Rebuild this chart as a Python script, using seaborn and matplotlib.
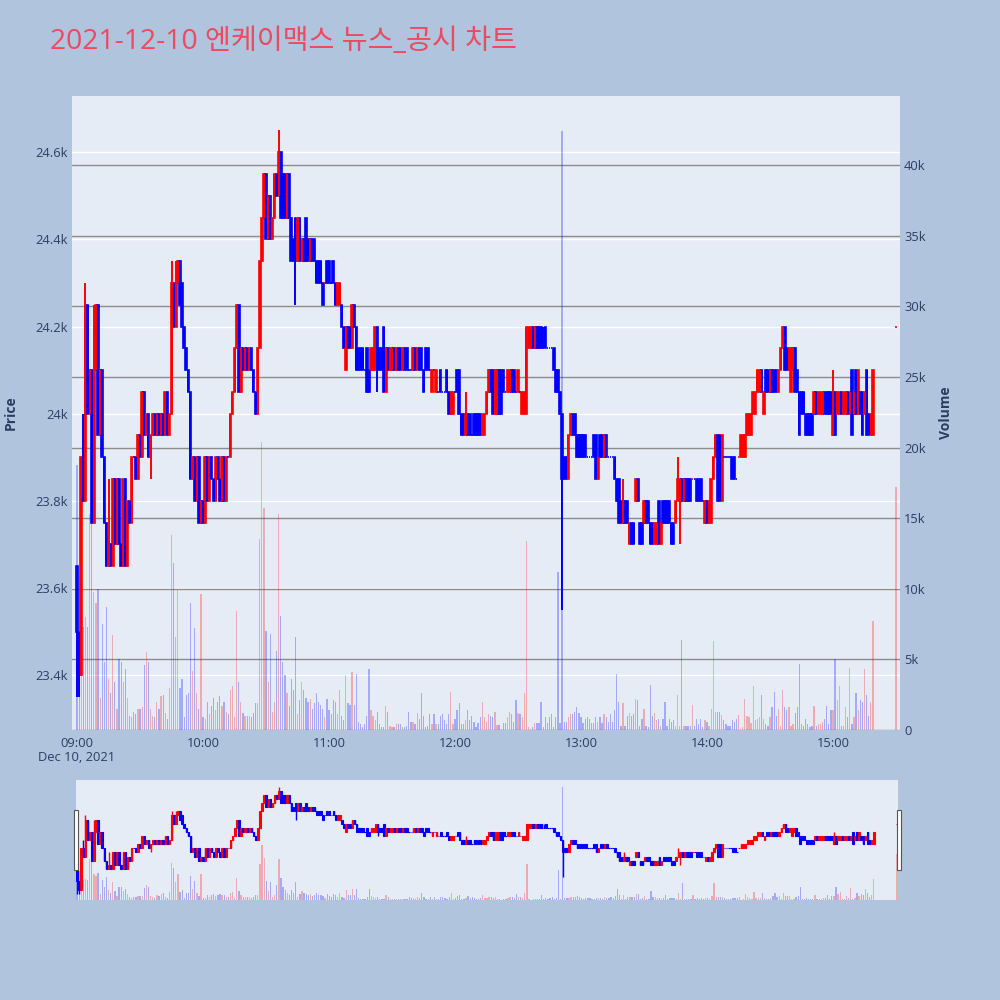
"""
Graphique minute : cours (chandeliers) et volume, séance du 10/12/2021
"""
import matplotlib
matplotlib.use('Agg')
import numpy as np
import pandas as pd
import matplotlib.pyplot as plt
import matplotlib.ticker as mticker
import matplotlib.transforms as mtransforms
from matplotlib.patches import Rectangle
import seaborn as sns

TITLE = '2021-12-10 엔케이맥스 뉴스_공시 차트'
DATE_LABEL = 'Dec 10, 2021'

# minutes after 09:00 -- last bar is the 15:30 closing auction
bar_minutes = list(range(380)) + [390]

opens = [
    23650, 23500, 23400, 23900, 23800, 24250, 24000, 24100, 23750, 24100,
    24250, 23950, 24100, 23900, 23750, 23650, 23700, 23650, 23850, 23700,
    23850, 23700, 23650, 23850, 23650, 23800, 23750, 23900, 23900, 23850,
    23950, 23900, 24050, 23950, 24000, 23900, 23950, 24000, 23950, 24000,
    23950, 24000, 23950, 24050, 23950, 24000, 24300, 24200, 24300, 24350,
    24300, 24200, 24150, 24100, 24050, 23850, 23900, 23800, 23900, 23750,
    23800, 23750, 23900, 23800, 23900, 23850, 23800, 23900, 23850, 23800,
    23900, 23800, 23900, 23900, 24000, 24050, 24150, 24250, 24050, 24150,
    24100, 24150, 24100, 24150, 24100, 24050, 24000, 24150, 24350, 24450,
    24550, 24400, 24500, 24400, 24450, 24550, 24500, 24600, 24550, 24550,
    24450, 24550, 24450, 24400, 24450, 24350, 24450, 24350, 24400, 24450,
    24400, 24350, 24400, 24400, 24350, 24350, 24350, 24300, 24300, 24350,
    24350, 24300, 24350, 24300, 24250, 24250, 24250, 24200, 24100, 24200,
    24200, 24150, 24250, 24200, 24150, 24150, 24150, 24100, 24150, 24100,
    24100, 24100, 24100, 24200, 24150, 24150, 24200, 24050, 24150, 24100,
    24100, 24150, 24100, 24150, 24150, 24100, 24150, 24150, 24100, 24100,
    24100, 24150, 24100, 24150, 24150, 24100, 24150, 24150, 24100, 24050,
    24100, 24050, 24050, 24100, 24050, 24050, 24100, 24050, 24000, 24000,
    24050, 24100, 24100, 24000, 24000, 23950, 24000, 24000, 23950, 24000,
    24000, 24000, 24000, 23950, 23950, 24000, 24050, 24100, 24100, 24000,
    24000, 24100, 24100, 24100, 24050, 24050, 24050, 24100, 24100, 24050,
    24050, 24050, 24000, 24000, 24000, 24150, 24150, 24200, 24150, 24200,
    24200, 24200, 24150, 24200, 24150, 24150, 24150, 24150, 24100, 24100,
    24050, 24000, 23900, 23900, 23850, 23950, 24000, 24000, 23950, 23950,
    23950, 23950, 23950, 23900, 23900, 23900, 23950, 23950, 23850, 23950,
    23950, 23900, 23950, 23900, 23900, 23900, 23900, 23850, 23850, 23800,
    23750, 23800, 23800, 23700, 23750, 23750, 23800, 23850, 23750, 23750,
    23750, 23800, 23800, 23750, 23750, 23700, 23700, 23800, 23700, 23800,
    23800, 23800, 23800, 23750, 23750, 23750, 23800, 23800, 23850, 23800,
    23850, 23850, 23850, 23850, 23850, 23850, 23850, 23850, 23800, 23750,
    23800, 23750, 23750, 23850, 23900, 23950, 23950, 23800, 23900, 23900,
    23900, 23900, 23900, 23900, 23850, 23900, 23900, 23900, 23900, 23950,
    23950, 23950, 24000, 24000, 24050, 24050, 24100, 24000, 24100, 24100,
    24050, 24100, 24100, 24100, 24050, 24100, 24150, 24200, 24150, 24100,
    24050, 24100, 24150, 24100, 24050, 24050, 24050, 24000, 24000, 24000,
    24000, 24000, 24050, 24000, 24000, 24000, 24050, 24050, 24050, 24050,
    23950, 24050, 24000, 24000, 24050, 24000, 24000, 24050, 24000, 24100,
    24000, 24100, 24000, 24050, 24050, 24000, 24100, 24000, 23950, 23950,
    24200,
]

closes = [
    23500, 23400, 23900, 23800, 24250, 24000, 24100, 23750, 24100, 24250,
    23950, 24100, 23900, 23750, 23650, 23700, 23650, 23850, 23700, 23850,
    23700, 23650, 23850, 23650, 23800, 23750, 23900, 23900, 23850, 23950,
    23900, 24050, 23950, 24000, 23900, 23950, 24000, 23950, 24000, 23950,
    24000, 23950, 24050, 23950, 24000, 24300, 24200, 24300, 24350, 24250,
    24200, 24150, 24100, 24050, 23850, 23900, 23800, 23900, 23750, 23800,
    23750, 23900, 23800, 23900, 23850, 23800, 23900, 23850, 23800, 23900,
    23800, 23900, 23900, 24000, 24050, 24150, 24250, 24050, 24150, 24100,
    24150, 24100, 24150, 24100, 24050, 24000, 24150, 24350, 24450, 24550,
    24400, 24500, 24400, 24450, 24550, 24500, 24600, 24450, 24450, 24450,
    24550, 24450, 24350, 24350, 24350, 24450, 24350, 24400, 24350, 24350,
    24350, 24400, 24350, 24350, 24300, 24300, 24300, 24250, 24300, 24300,
    24300, 24300, 24300, 24250, 24300, 24300, 24200, 24150, 24200, 24150,
    24150, 24250, 24200, 24100, 24100, 24100, 24100, 24100, 24050, 24050,
    24150, 24150, 24200, 24100, 24100, 24100, 24050, 24150, 24100, 24150,
    24150, 24100, 24150, 24100, 24100, 24150, 24100, 24100, 24100, 24100,
    24150, 24100, 24150, 24100, 24100, 24050, 24100, 24100, 24100, 24100,
    24100, 24100, 24050, 24050, 24050, 24050, 24050, 24000, 24050, 24050,
    24050, 24050, 24000, 23950, 23950, 24000, 23950, 23950, 23950, 23950,
    23950, 23950, 23950, 24000, 24000, 24050, 24100, 24050, 24000, 24100,
    24100, 24000, 24000, 24050, 24050, 24100, 24100, 24050, 24050, 24050,
    24100, 24050, 24050, 24050, 24200, 24200, 24200, 24150, 24200, 24150,
    24150, 24150, 24150, 24150, 24150, 24150, 24150, 24100, 24050, 24050,
    24000, 23850, 23850, 23850, 23950, 24000, 23950, 23950, 23900, 23900,
    23900, 23900, 23900, 23900, 23900, 23900, 23900, 23850, 23900, 23900,
    23900, 23950, 23900, 23900, 23900, 23900, 23850, 23800, 23750, 23750,
    23800, 23750, 23750, 23750, 23700, 23700, 23850, 23800, 23700, 23700,
    23800, 23750, 23750, 23700, 23700, 23750, 23750, 23700, 23750, 23750,
    23750, 23750, 23750, 23700, 23700, 23800, 23850, 23850, 23800, 23850,
    23800, 23800, 23800, 23850, 23850, 23800, 23800, 23800, 23800, 23800,
    23750, 23800, 23850, 23900, 23950, 23800, 23800, 23950, 23900, 23900,
    23900, 23900, 23850, 23850, 23850, 23900, 23950, 23950, 23950, 24000,
    24000, 24000, 24050, 24050, 24100, 24100, 24050, 24050, 24050, 24050,
    24100, 24050, 24050, 24050, 24100, 24150, 24200, 24100, 24100, 24150,
    24150, 24150, 24050, 24050, 23950, 24000, 24000, 23950, 23950, 23950,
    23950, 24050, 24000, 24050, 24050, 24050, 24000, 24000, 24000, 24000,
    24050, 23950, 24050, 24050, 24000, 24050, 24050, 24000, 24050, 23950,
    24050, 24000, 24100, 24000, 23950, 24050, 23950, 23950, 24000, 24100,
    24200,
]

# wicks reaching beyond the body: minute -> (high, low)
wicks = {
    0: (23650, 23350), 1: (23500, 23350), 3: (24000, 23800), 4: (24300, 23800),
    8: (24250, 23750), 15: (23850, 23650), 35: (23950, 23850), 45: (24350, 24000),
    47: (24350, 24200), 49: (24350, 24250), 96: (24650, 24500), 104: (24450, 24250),
    117: (24300, 24250), 143: (24200, 24050), 185: (24050, 23950), 222: (24200, 24150),
    231: (24000, 23550), 260: (23850, 23750), 286: (23900, 23800), 287: (23850, 23700),
    360: (24100, 23950),
}

# volume per minute, thousands of shares
volume_k = [
    18.8, 11.0, 16.0, 7.3, 8.0, 7.3, 15.3, 14.6, 9.8, 9.0,
    10.0, 2.3, 7.5, 4.8, 8.7, 3.6, 2.6, 6.7, 3.4, 1.5,
    5.0, 4.8, 3.4, 4.3, 2.3, 1.0, 0.9, 1.3, 1.1, 1.5,
    1.5, 1.6, 4.6, 5.5, 4.8, 1.5, 1.0, 0.9, 2.0, 1.5,
    2.4, 2.5, 1.2, 0.8, 3.0, 13.8, 11.8, 6.6, 9.9, 3.0,
    3.6, 0.9, 2.5, 2.6, 9.0, 4.2, 7.2, 2.6, 1.5, 9.6,
    0.9, 0.8, 2.0, 1.1, 1.7, 2.3, 1.4, 2.0, 2.4, 1.7,
    2.0, 1.3, 1.1, 2.8, 3.1, 0.9, 8.4, 3.4, 2.0, 1.2,
    1.0, 1.0, 1.0, 0.9, 1.2, 1.9, 1.9, 13.5, 20.4, 15.7,
    7.0, 3.4, 6.8, 1.3, 2.0, 5.6, 15.3, 8.1, 4.8, 3.9,
    2.6, 1.7, 3.6, 2.8, 6.6, 1.1, 2.1, 3.4, 2.8, 2.3,
    2.0, 2.2, 1.5, 1.9, 2.6, 2.0, 1.8, 1.5, 0.9, 2.2,
    1.4, 1.1, 2.1, 2.0, 1.1, 2.8, 1.0, 0.7, 3.9, 1.9,
    1.8, 4.1, 1.8, 4.0, 0.6, 0.45, 0.2, 0.45, 1.0, 4.3,
    1.4, 1.0, 0.7, 1.3, 0.45, 0.2, 0.2, 1.7, 1.3, 0.3,
    0.2, 0.2, 0.45, 0.45, 0.45, 0.2, 0.2, 0.3, 1.3, 0.6,
    0.6, 0.45, 1.2, 0.8, 2.6, 1.0, 0.2, 0.3, 1.1, 0.45,
    1.1, 0.45, 0.45, 1.0, 1.1, 0.7, 0.45, 1.1, 2.7, 0.45,
    0.8, 1.4, 1.9, 0.45, 0.45, 0.7, 1.4, 0.7, 1.0, 0.6,
    0.2, 0.5, 0.9, 2.0, 0.9, 0.6, 1.1, 1.0, 0.9, 1.3,
    0.35, 0.35, 0.1, 0.5, 0.5, 0.9, 1.3, 1.1, 0.6, 2.1,
    1.2, 1.1, 0.9, 2.6, 13.4, 0.2, 0.1, 0.2, 0.5, 0.5,
    0.5, 2.0, 0.2, 0.9, 0.5, 0.9, 1.1, 0.2, 0.9, 11.2,
    0.5, 42.4, 0.6, 0.6, 0.9, 1.1, 1.1, 1.3, 1.6, 1.2,
    0.9, 0.5, 0.8, 0.9, 0.8, 0.5, 0.5, 0.9, 0.6, 0.9,
    0.5, 1.1, 0.9, 0.6, 1.1, 0.6, 1.4, 4.0, 2.0, 0.3,
    1.9, 0.3, 1.0, 1.2, 1.0, 1.1, 2.2, 2.1, 0.3, 0.8,
    1.5, 0.3, 0.2, 3.2, 1.0, 1.2, 0.7, 0.8, 0.3, 0.8,
    2.0, 0.3, 0.8, 0.6, 0.7, 0.3, 2.5, 0.3, 6.4, 0.3,
    0.3, 0.3, 0.3, 1.8, 0.3, 0.8, 0.4, 0.8, 0.2, 0.7,
    0.6, 0.3, 1.5, 6.3, 1.3, 1.3, 1.3, 1.05, 0.7, 0.4,
    0.3, 0.3, 0.7, 0.6, 0.8, 1.05, 0.1, 0.2, 2.2, 1.0,
    0.9, 0.5, 3.1, 0.7, 0.8, 0.9, 2.5, 0.8, 0.45, 0.3,
    0.9, 1.6, 2.7, 1.0, 1.5, 0.3, 2.8, 1.6, 1.4, 1.6,
    0.3, 0.45, 1.2, 1.6, 4.7, 0.45, 0.3, 0.8, 0.45, 0.2,
    0.3, 1.7, 0.3, 0.45, 0.45, 0.6, 0.8, 1.7, 0.45, 1.4,
    1.4, 5.0, 2.1, 3.1, 0.3, 0.3, 1.6, 0.9, 4.4, 0.45,
    0.9, 2.6, 1.4, 2.1, 2.0, 4.3, 2.5, 1.0, 2.0, 7.7,
    17.2,
]

hour_ticks = [0, 60, 120, 180, 240, 300, 360]
hour_labels = ['09:00', '10:00', '11:00', '12:00', '13:00', '14:00', '15:00']
price_ticks = [23400, 23600, 23800, 24000, 24200, 24400, 24600]
volume_ticks = [0, 5000, 10000, 15000, 20000, 25000, 30000, 35000, 40000]

# Configuration
FIG_BG = '#B0C4DE'
PLOT_BG = '#E5ECF6'
TXT = '#2a3f5f'
PALETTE = {'up': '#FF0000', 'down': '#0000FF'}
PRICE_LIM = (23274, 24729)
VOL_LIM = (0, 44900)

sns.set_style('white')
plt.rcParams['font.family'] = ['Open Sans', 'Noto Sans CJK KR', 'DejaVu Sans']

df = pd.DataFrame({'minute': bar_minutes, 'open': opens, 'close': closes,
                   'volume': np.array(volume_k) * 1000})
df['high'] = df[['open', 'close']].max(axis=1)
df['low'] = df[['open', 'close']].min(axis=1)
for m, (hi, lo) in wicks.items():
    i = df.index[df['minute'] == m][0]
    df.loc[i, 'high'] = hi
    df.loc[i, 'low'] = lo

dirs = []
prev = None
for o, c in zip(df['open'], df['close']):
    if c > o:
        d = 'up'
    elif c < o:
        d = 'down'
    else:
        d = 'up' if (prev is not None and c > prev) else 'down'
    dirs.append(d)
    prev = c
df['dir'] = dirs


def draw_panel(ax_bg, lw_wick, lw_body):
    """volume (behind) + candles (front) over ax_bg"""
    ax_vol = ax_bg.twinx()
    ax_can = ax_bg.twinx()
    sns.barplot(data=df, x='minute', y='volume', hue='dir', palette=PALETTE,
                native_scale=True, dodge=False, width=0.6, saturation=1,
                errorbar=None, legend=False, alpha=0.28, linewidth=0,
                orient='x', ax=ax_vol)
    colors = df['dir'].map(PALETTE).tolist()
    ax_can.vlines(df['minute'], df['low'], df['high'], colors=colors,
                  linewidth=lw_wick)
    ax_can.bar(df['minute'], (df['close'] - df['open']).abs(),
               bottom=df[['open', 'close']].min(axis=1), width=0.75,
               color=colors, edgecolor=colors, linewidth=lw_body)
    for ax in (ax_bg, ax_vol, ax_can):
        for s in ax.spines.values():
            s.set_visible(False)
        ax.set_xlabel('')
        ax.set_ylabel('')
    ax_bg.set_facecolor(PLOT_BG)
    ax_bg.set_ylim(PRICE_LIM)
    ax_can.set_ylim(PRICE_LIM)
    ax_vol.set_ylim(VOL_LIM)
    ax_can.set_yticks([])
    return ax_vol, ax_can


fig = plt.figure(figsize=(10, 10), dpi=100, facecolor=FIG_BG)

# main chart
ax_p = fig.add_axes([0.072, 0.270, 0.828, 0.634])
ax_v, ax_c = draw_panel(ax_p, 1.4, 1.2)
ax_p.set_xlim(-2.4, 391.9)

ax_p.set_yticks(price_ticks)
ax_p.yaxis.set_major_formatter(mticker.FuncFormatter(lambda v, _: f'{v / 1000:g}k'))
ax_p.grid(axis='y', color='white', linewidth=1.0)
ax_p.grid(axis='x', visible=False)
ax_p.set_xticks(hour_ticks)
ax_p.set_xticklabels(hour_labels)
ax_p.tick_params(axis='both', labelsize=9.3, colors=TXT, length=0)
ax_p.tick_params(axis='y', pad=3)
ax_p.tick_params(axis='x', pad=5)
ax_p.set_ylabel('Price', fontsize=10, fontweight='bold', color=TXT)
ax_p.yaxis.set_label_coords(-0.066, 0.5)

ax_v.set_yticks(volume_ticks)
ax_v.yaxis.set_major_formatter(
    mticker.FuncFormatter(lambda v, _: '0' if v == 0 else f'{v / 1000:g}k'))
ax_v.grid(axis='y', color='#8c8c8c', linewidth=1.0)
ax_v.set_axisbelow(True)
ax_v.tick_params(axis='y', labelsize=9.3, colors=TXT, length=0, pad=3)
ax_v.set_ylabel('Volume', fontsize=10, fontweight='bold', color=TXT)
ax_v.yaxis.set_label_position('right')
ax_v.yaxis.set_label_coords(1.047, 0.5)

trans = mtransforms.blended_transform_factory(ax_p.transData, ax_p.transAxes)
ax_p.text(hour_ticks[0], -0.044, DATE_LABEL, transform=trans, ha='center',
          va='center', fontsize=9.3, color=TXT)

# range slider
ax_s = fig.add_axes([0.076, 0.100, 0.822, 0.120])
ax_sv, ax_sc = draw_panel(ax_s, 1.0, 0.8)
ax_s.set_xlim(-0.5, 390.5)
for ax in (ax_s, ax_sv, ax_sc):
    ax.set_xticks([])
    ax.set_yticks([])
    ax.grid(False)
for hx in (0.0735, 0.8965):
    fig.add_artist(Rectangle((hx, 0.130), 0.004, 0.060, transform=fig.transFigure,
                             facecolor='white', edgecolor='#555555', linewidth=0.8))

fig.text(0.050, 0.958, TITLE, fontsize=20.3, color='#EB4A62', ha='left', va='center')

plt.savefig('out.png', dpi=100, facecolor=fig.get_facecolor())
plt.close()
